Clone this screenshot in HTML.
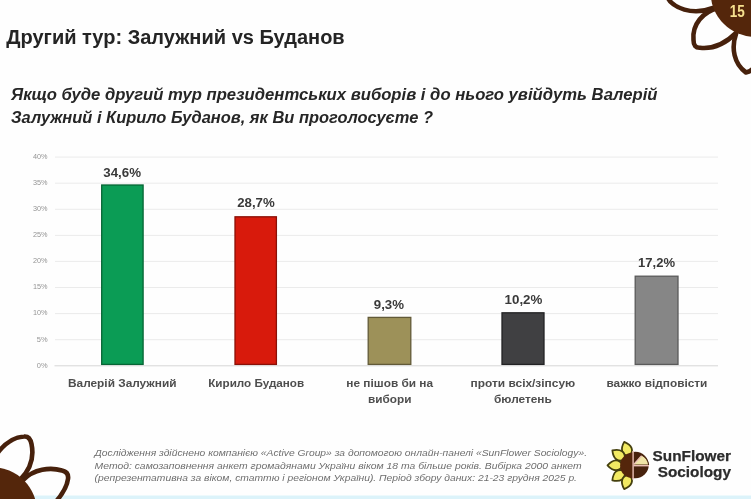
<!DOCTYPE html>
<html lang="uk">
<head>
<meta charset="utf-8">
<title>Другий тур: Залужний vs Буданов</title>
<style>
html,body{margin:0;padding:0;background:#fefefe;}
body{width:751px;height:499px;overflow:hidden;position:relative;font-family:"Liberation Sans",sans-serif;}
svg{position:absolute;left:-10px;top:-10px;display:block;filter:blur(0.5px);}
text{font-family:"Liberation Sans",sans-serif;}
.t{font-weight:bold;fill:#242424;}
.q{font-weight:bold;font-style:italic;fill:#262626;}
.ax{fill:#949494;font-size:6.4px;}
.v{font-weight:bold;fill:#3a3a3a;font-size:12.4px;}
.c{font-weight:bold;fill:#4e4e4e;font-size:11.2px;}
.f{font-style:italic;fill:#6e6e6e;font-size:8.8px;}
.lg{font-weight:bold;fill:#2c2c2c;stroke:#2c2c2c;stroke-width:0.25px;font-size:15.2px;}
</style>
</head>
<body>
<svg width="771" height="519" viewBox="-10 -10 771 519">
<rect x="-10" y="-10" width="771" height="519" fill="#fefefe"/>
<rect x="-10" y="495.5" width="771" height="14" fill="#dcf3fa"/>

<!-- top-right flower -->
<g stroke="#47210c" stroke-width="4.6" fill="none" stroke-linejoin="round" stroke-linecap="round">
<path d="M667 -3 C673 8 692 16 713 8"/>
<path d="M718 8 C703 12 692 24 693.5 40 Q693.5 48 700 47.7 C712 49 724 45 736 33"/>
<path d="M736 34 C731 48 734 64 746 72.5 C749 72 752 70 754 68"/>
</g>
<circle cx="755.5" cy="-8" r="45" fill="#54260b"/>
<text x="729.8" y="16.8" font-size="15.8" font-weight="bold" fill="#f6e08e" textLength="15" lengthAdjust="spacingAndGlyphs">15</text>

<!-- bottom-left flower -->
<g stroke="#47210c" stroke-width="4.6" fill="none" stroke-linejoin="round" stroke-linecap="round">
<path d="M-4 455 C4 444 14 437 24 436.5 Q30 436 31.5 444 C34 456 32 468 20 480"/>
<path d="M23 480 C34 469 50 467 62 470.5 Q69 472 68 479 C67 487 62 495 54 504"/>
</g>
<circle cx="-8" cy="512" r="45" fill="#54260b"/>

<!-- title -->
<text class="t" x="6.2" y="43.5" font-size="19.6" textLength="338.5" lengthAdjust="spacingAndGlyphs">Другий тур: Залужний vs Буданов</text>
<text class="q" x="11" y="99.9" font-size="15.8" textLength="646.5" lengthAdjust="spacingAndGlyphs">Якщо буде другий тур президентських виборів і до нього увійдуть Валерій</text>
<text class="q" x="11" y="123" font-size="15.8" textLength="422" lengthAdjust="spacingAndGlyphs">Залужний і Кирило Буданов, як Ви проголосуєте ?</text>

<!-- grid -->
<g stroke="#ebebeb" stroke-width="1">
<line x1="55" y1="157.1" x2="718" y2="157.1"/>
<line x1="55" y1="183.2" x2="718" y2="183.2"/>
<line x1="55" y1="209.3" x2="718" y2="209.3"/>
<line x1="55" y1="235.4" x2="718" y2="235.4"/>
<line x1="55" y1="261.4" x2="718" y2="261.4"/>
<line x1="55" y1="287.5" x2="718" y2="287.5"/>
<line x1="55" y1="313.6" x2="718" y2="313.6"/>
<line x1="55" y1="339.7" x2="718" y2="339.7"/>
</g>
<line x1="54.5" y1="365.8" x2="718" y2="365.8" stroke="#d6d6d6" stroke-width="1"/>
<g class="ax">
<text x="33" y="158.9" textLength="14.6" lengthAdjust="spacingAndGlyphs">40%</text>
<text x="33" y="185.0" textLength="14.6" lengthAdjust="spacingAndGlyphs">35%</text>
<text x="33" y="211.1" textLength="14.6" lengthAdjust="spacingAndGlyphs">30%</text>
<text x="33" y="237.2" textLength="14.6" lengthAdjust="spacingAndGlyphs">25%</text>
<text x="33" y="263.2" textLength="14.6" lengthAdjust="spacingAndGlyphs">20%</text>
<text x="33" y="289.3" textLength="14.6" lengthAdjust="spacingAndGlyphs">15%</text>
<text x="33" y="315.4" textLength="14.6" lengthAdjust="spacingAndGlyphs">10%</text>
<text x="36.8" y="341.5" textLength="10.8" lengthAdjust="spacingAndGlyphs">5%</text>
<text x="36.8" y="367.6" textLength="10.8" lengthAdjust="spacingAndGlyphs">0%</text>
</g>

<!-- bars -->
<rect x="101.7" y="185" width="41.4" height="179.4" fill="#0b9c55" stroke="#076535" stroke-width="1.3"/>
<rect x="235" y="216.8" width="41.4" height="147.6" fill="#d81a0c" stroke="#8a1007" stroke-width="1.3"/>
<rect x="368.2" y="317.4" width="42.6" height="47.0" fill="#9d9159" stroke="#625a38" stroke-width="1.3"/>
<rect x="502" y="312.8" width="42" height="51.6" fill="#404042" stroke="#222224" stroke-width="1.3"/>
<rect x="635.2" y="276.2" width="42.8" height="88.2" fill="#868686" stroke="#5a5a5a" stroke-width="1.3"/>

<g class="v">
<text x="103.3" y="176.8" textLength="37.8" lengthAdjust="spacingAndGlyphs">34,6%</text>
<text x="237.2" y="207.2" textLength="37.5" lengthAdjust="spacingAndGlyphs">28,7%</text>
<text x="373.8" y="309" textLength="30.2" lengthAdjust="spacingAndGlyphs">9,3%</text>
<text x="504.6" y="304" textLength="37.8" lengthAdjust="spacingAndGlyphs">10,2%</text>
<text x="638" y="266.9" textLength="37" lengthAdjust="spacingAndGlyphs">17,2%</text>
</g>

<g class="c">
<text x="68" y="387.1" textLength="108.5" lengthAdjust="spacingAndGlyphs">Валерій Залужний</text>
<text x="208.2" y="387.1" textLength="96" lengthAdjust="spacingAndGlyphs">Кирило Буданов</text>
<text x="346.3" y="387.1" textLength="86.8" lengthAdjust="spacingAndGlyphs">не пішов би на</text>
<text x="368" y="403" textLength="43.4" lengthAdjust="spacingAndGlyphs">вибори</text>
<text x="470.6" y="387.1" textLength="104.6" lengthAdjust="spacingAndGlyphs">проти всіх/зіпсую</text>
<text x="494" y="403" textLength="57.8" lengthAdjust="spacingAndGlyphs">бюлетень</text>
<text x="606.5" y="387.1" textLength="100.9" lengthAdjust="spacingAndGlyphs">важко відповісти</text>
</g>

<!-- footer -->
<g class="f">
<text x="94.6" y="456.3" textLength="492.4" lengthAdjust="spacingAndGlyphs">Дослідження здійснено компанією «Active Group» за допомогою онлайн-панелі «SunFlower Sociology».</text>
<text x="94.6" y="468.6" textLength="487" lengthAdjust="spacingAndGlyphs">Метод: самозаповнення анкет громадянами України віком 18 та більше років. Вибірка 2000 анкет</text>
<text x="94.6" y="481.1" textLength="482.4" lengthAdjust="spacingAndGlyphs">(репрезентативна за віком, статтю і регіоном України). Період збору даних: 21-23 грудня 2025 р.</text>
</g>

<!-- logo -->
<g id="logo">
<g fill="#f2ea62" stroke="#45400f" stroke-width="1.8" stroke-linejoin="round">
<path d="M0 -10 C-7 -14 -6.2 -20 0 -25.5 C6.2 -20 7 -14 0 -10 Z" transform="translate(632.5 466) rotate(-19)"/>
<path d="M0 -10 C-7 -14 -6.2 -20 0 -25.5 C6.2 -20 7 -14 0 -10 Z" transform="translate(633 465.3) rotate(-54)"/>
<path d="M0 -10 C-7 -14 -6.2 -20 0 -25.5 C6.2 -20 7 -14 0 -10 Z" transform="translate(633 465.3) rotate(-90)"/>
<path d="M0 -10 C-7 -14 -6.2 -20 0 -25.5 C6.2 -20 7 -14 0 -10 Z" transform="translate(633 465.3) rotate(-126)"/>
<path d="M0 -10 C-7 -14 -6.2 -20 0 -25.5 C6.2 -20 7 -14 0 -10 Z" transform="translate(632.5 465) rotate(-161)"/>
</g>
<path d="M633 452.6 A12.9 12.9 0 0 0 633 478.4 Z" fill="#54260b"/>
<clipPath id="pc"><rect x="633" y="440" width="30" height="50"/></clipPath>
<g clip-path="url(#pc)">
<circle cx="635.5" cy="465" r="13.2" fill="#47220d"/>
<path d="M635.5 465 L633 465 L641.8 455.2 A13.2 13.2 0 0 1 648.7 465 Z" fill="#f0e4a6" stroke="#47220d" stroke-width="1"/>
</g>
<g stroke="#ecc0b6" stroke-width="1.4" fill="none">
<line x1="633.1" y1="451" x2="633.1" y2="479.5"/>
<line x1="633.5" y1="465.7" x2="649" y2="465.7"/>
<line x1="633.8" y1="464.4" x2="641.6" y2="455.8"/>
</g>
</g>
<text class="lg" x="652.6" y="460.6" textLength="78.4" lengthAdjust="spacingAndGlyphs">SunFlower</text>
<text class="lg" x="657.7" y="477.4" textLength="73.3" lengthAdjust="spacingAndGlyphs">Sociology</text>
</svg>
</body>
</html>
